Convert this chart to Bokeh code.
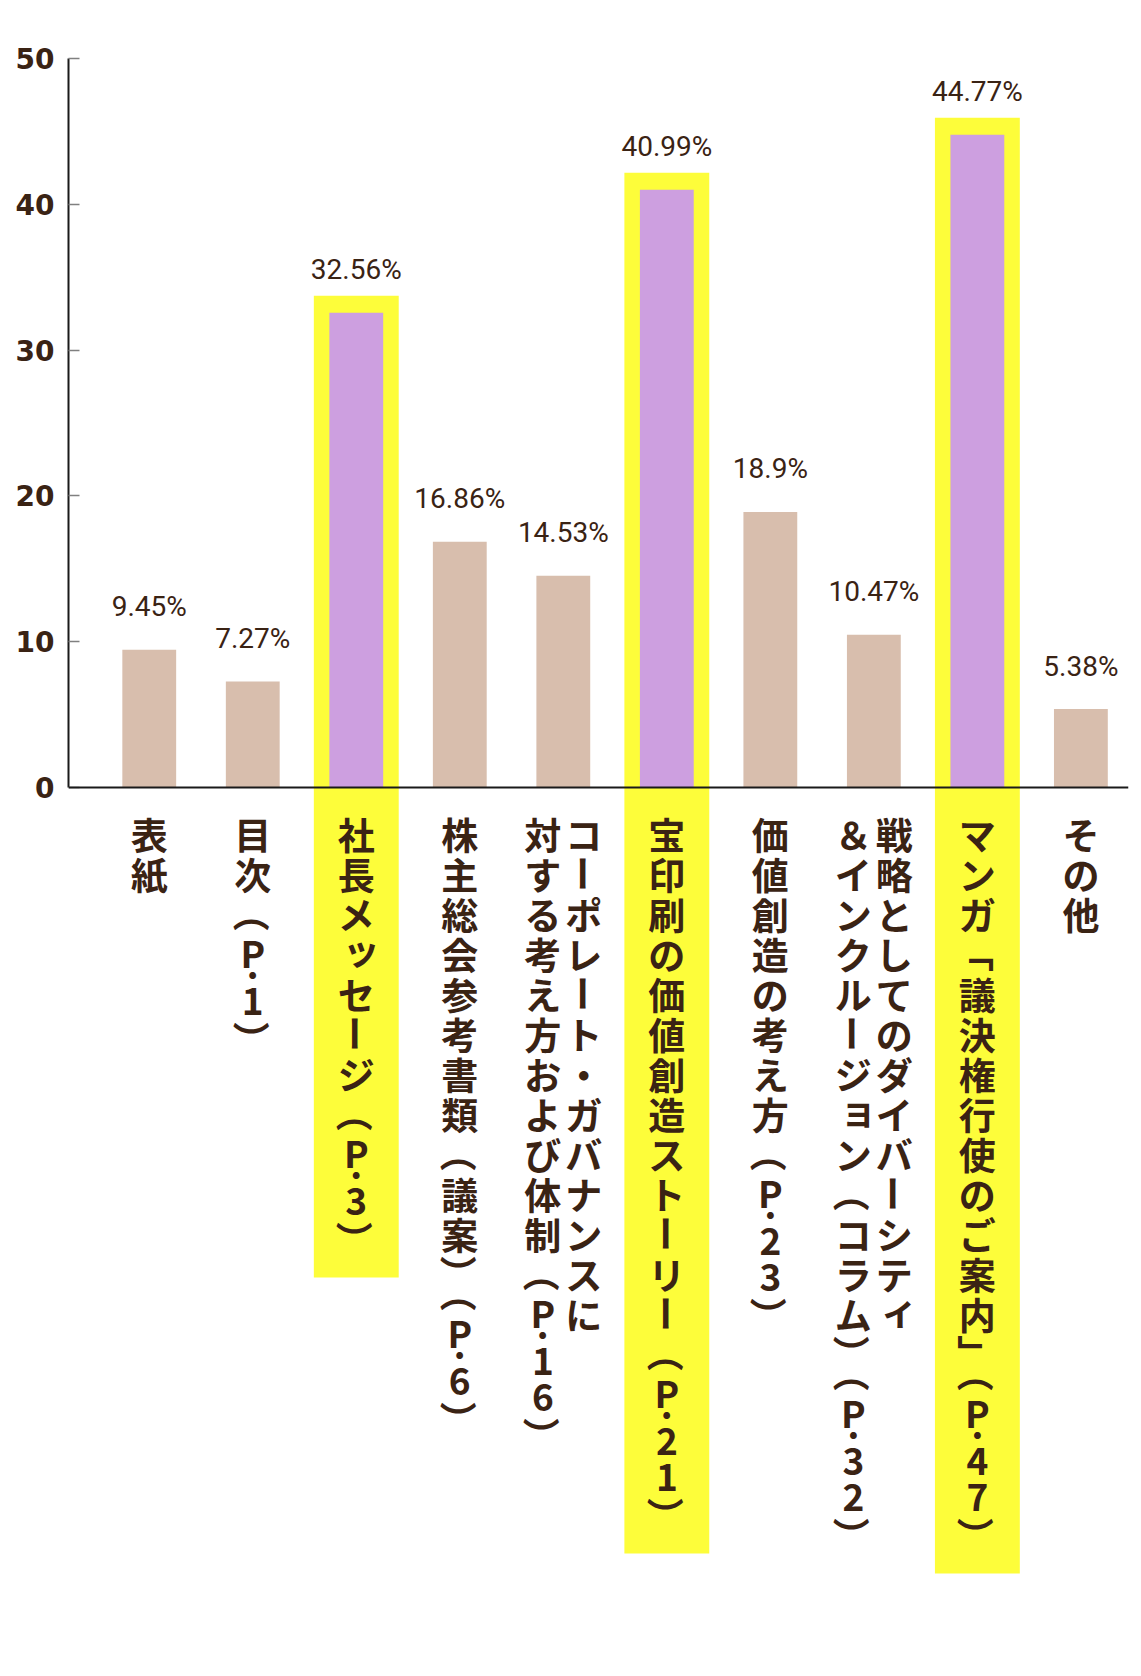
import math
from bokeh.plotting import figure
from bokeh.models import Range1d, FixedTicker, Span, ColumnDataSource
from bokeh.embed import file_html
from bokeh.resources import INLINE
from bokeh.core.properties import value

# ---------------- data ----------------
categories = [
    "表紙",
    "目次（P·1）",
    "社長メッセージ（P·3）",
    "株主総会参考書類（議案）（P·6）",
    "コーポレート・ガバナンスに\n対する考え方および体制（P·16）",
    "宝印刷の価値創造ストーリー（P·21）",
    "価値創造の考え方（P·23）",
    "戦略としてのダイバーシティ\n＆インクルージョン（コラム）（P·32）",
    "マンガ「議決権行使のご案内」（P·47）",
    "その他",
]
values = [9.45, 7.27, 32.56, 16.86, 14.53, 40.99, 18.9, 10.47, 44.77, 5.38]
value_labels = ["9.45%", "7.27%", "32.56%", "16.86%", "14.53%",
                "40.99%", "18.9%", "10.47%", "44.77%", "5.38%"]
highlighted = [False, False, True, False, False, True, False, False, True, False]
y_ticks = [0, 10, 20, 30, 40, 50]

# ---------------- styles / layout ----------------
TEXT = "#3a2314"
TAN = "#d8bead"
PURPLE = "#cd9fe0"
YELLOW = "#fdfd3a"

FIG_W, FIG_H = 1133, 1658
B_LEFT, B_RIGHT, B_TOP, B_BOTTOM = 68, 5, 20, 8
FRAME_H = FIG_H - B_TOP - B_BOTTOM
PX = 14.58                      # screen px per data unit (y)
Y_END = 50 + 38 / PX
Y_START = Y_END - FRAME_H / PX
X_START, X_END = -0.78, 9.46

ADV, HALF, LAT, DOT = 40.0, 20.0, 36.0, 14.0
START = 26.0
OPEN, CLOSE = "（「", "）」"
ROT = "ー" + OPEN + CLOSE
SMALL = "ッィョャュァ"


def layout(col):
    out = []
    pos = START
    prev = ""
    for ch in col:
        dx, dy, ang = 0.0, 0.0, 0.0
        if ch in OPEN and prev != "" and prev in CLOSE:
            c, adv, ang = pos, HALF, -math.pi / 2
        elif ch in ROT:
            c, adv, ang = pos + ADV / 2, ADV, -math.pi / 2
        elif ch == "·":
            c, adv = pos + 3, DOT
        elif ch.isascii():
            c, adv = pos + LAT / 2, LAT
        else:
            c, adv = pos + ADV / 2, ADV
            if ch in SMALL:
                dx, dy = 5.0, -5.0
        out.append((ch, c + dy, dx, ang))
        pos += adv
        prev = ch
    return out, pos


p = figure(width=FIG_W, height=FIG_H, output_backend="svg", toolbar_location=None,
           x_range=Range1d(X_START, X_END), y_range=Range1d(Y_START, Y_END),
           x_axis_location=None, min_border_left=B_LEFT, min_border_right=B_RIGHT,
           min_border_top=B_TOP, min_border_bottom=B_BOTTOM)
p.outline_line_color = None
p.grid.visible = False
p.background_fill_color = "white"
p.border_fill_color = "white"

# label glyph layout
lx, ly, lxo, lang, ltxt = [], [], [], [], []
label_ends = []
for i, lab in enumerate(categories):
    cols = lab.split("\n")
    n = len(cols)
    end_max = 0
    for j, col in enumerate(cols):
        xo = (n - 1) * 20.5 - j * 41.0
        toks, end = layout(col)
        end_max = max(end_max, end)
        for ch, c, dx, ang in toks:
            lx.append(i)
            ly.append(-c / PX)
            lxo.append(xo + dx)
            lang.append(ang)
            ltxt.append(ch)
    label_ends.append(end_max)

# highlight backgrounds
hx = [i for i in range(len(values)) if highlighted[i]]
htop = [values[i] + 17 / PX for i in hx]
hbot = [-(label_ends[i] + 18) / PX for i in hx]
p.vbar(x=hx, top=htop, bottom=hbot, width=0.82, fill_color=YELLOW, line_color=None)

# bars
colors = [PURPLE if h else TAN for h in highlighted]
p.vbar(x=list(range(len(values))), top=values, bottom=0, width=0.52,
       fill_color=colors, line_color=None)

# value labels
p.text(x=list(range(len(values))), y=[v + 43 / PX for v in values], text=value_labels,
       text_font=value("Roboto"), text_font_size="28px", text_color=TEXT,
       text_align="center", text_baseline="alphabetic")

# category labels (vertical writing)
src = ColumnDataSource(dict(x=lx, y=ly, xo=lxo, ang=lang, t=ltxt))
p.text(x="x", y="y", text="t", x_offset="xo", angle="ang", source=src,
       text_font=value("Noto Sans CJK JP"), text_font_style="bold",
       text_font_size="37px", text_color=TEXT, text_align="center",
       text_baseline="middle")

# x axis line
p.add_layout(Span(location=0, dimension="width", line_color="#1a1a1a", line_width=2))

# y axis
ax = p.yaxis[0]
ax.bounds = (0, 50)
ax.ticker = FixedTicker(ticks=y_ticks)
ax.minor_tick_line_color = None
ax.major_tick_in = 11
ax.major_tick_out = 0
ax.major_tick_line_color = "#808080"
ax.major_tick_line_width = 1.5
ax.axis_line_color = "#1a1a1a"
ax.axis_line_width = 2
ax.major_label_text_font = "DejaVu Sans"
ax.major_label_text_font_style = "bold"
ax.major_label_text_font_size = "28px"
ax.major_label_text_color = TEXT
ax.major_label_standoff = 14

open("out.html", "w").write(file_html(p, INLINE))
